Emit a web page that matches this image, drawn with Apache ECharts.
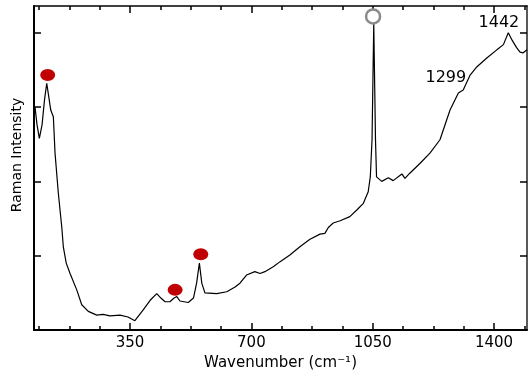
<!DOCTYPE html>
<html>
<head>
<meta charset="utf-8">
<script src="https://cdn.jsdelivr.net/npm/echarts@6/dist/echarts.min.js"></script>
<style>
  html, body { margin: 0; padding: 0; background: #fff; }
  #chart { width: 528px; height: 380px; }
</style>
</head>
<body>
<div id="chart"></div>
<script>
// spectrum (intensity in arbitrary units, one unit per y tick)
const wavenumber = [76, 81.8, 88.4, 96.2, 103.4, 109.7, 114.9, 121.3, 128.8, 133.7, 143.2, 153, 157.6, 166, 177, 196.3, 210.7, 229.7, 254, 272, 292, 321, 344, 364, 388, 408, 427, 439, 451, 465, 477, 485, 494, 518, 533, 542, 550, 557, 566, 600, 629, 653, 667, 686, 710, 725, 739, 763, 783, 811, 840, 869, 898, 912, 922, 936, 956, 984, 1004, 1023, 1037, 1043, 1048, 1053, 1058, 1061, 1076, 1095, 1109, 1134, 1143, 1157, 1186, 1215, 1244, 1273, 1297, 1311, 1331, 1350, 1379, 1408, 1427, 1441, 1452, 1465, 1475, 1484, 1495]
const intensity = [3.00, 2.76, 2.58, 2.76, 3.10, 3.32, 3.16, 2.96, 2.87, 2.38, 1.84, 1.39, 1.12, 0.90, 0.76, 0.54, 0.34, 0.25, 0.20, 0.21, 0.19, 0.20, 0.175, 0.125, 0.27, 0.40, 0.49, 0.43, 0.38, 0.38, 0.43, 0.45, 0.39, 0.37, 0.43, 0.63, 0.90, 0.63, 0.50, 0.49, 0.515, 0.58, 0.63, 0.74, 0.785, 0.76, 0.785, 0.85, 0.92, 1.01, 1.12, 1.22, 1.29, 1.30, 1.38, 1.44, 1.47, 1.525, 1.615, 1.705, 1.86, 2.06, 2.56, 4.12, 2.56, 2.06, 2.00, 2.05, 2.01, 2.10, 2.04, 2.11, 2.24, 2.38, 2.56, 2.96, 3.19, 3.23, 3.43, 3.54, 3.66, 3.77, 3.84, 4.00, 3.90, 3.80, 3.74, 3.73, 3.77]

// markers
const redDotX = [112.5, 480, 554]
const redDotY = [3.43, 0.54, 1.02]
const ringX = [1051]
const ringY = [4.22]
const peakLabels = ['1299', '1442']
const peakLabelX = [1261, 1414]
const peakLabelY = [3.39, 4.13]

// axis ticks
const xMajorTicks = [350, 700, 1050, 1400]
const xMinorTicks = [87.5, 175, 262.5, 437.5, 525, 612.5, 787.5, 875, 962.5, 1137.5, 1225, 1312.5, 1487.5]
const yTicks = [0, 1, 2, 3, 4]

const xMin = 73, xMax = 1495
const yMin = 0, yMax = 4.36
const FONT = 'DejaVu Sans'

const zip = (a, b) => a.map((v, i) => [v, b[i]])

const xAxisOf = (position, ticks, len, width, showLine, showLabel) => ({
	type: 'value',
	position: position,
	min: xMin,
	max: xMax,
	splitLine: { show: false },
	axisLine: { show: showLine, onZero: false, lineStyle: { color: '#000', width: width } },
	axisTick: { show: true, inside: true, length: len, customValues: ticks, lineStyle: { color: '#000', width: 1.5 } },
	axisLabel: showLabel ? {
		show: true, customValues: ticks, margin: 6,
		formatter: v => String(v),
		fontFamily: FONT, fontSize: 15, color: '#000'
	} : { show: false },
})

const chart = echarts.init(document.getElementById('chart'))
chart.setOption({
	animation: false,
	grid: { left: 34, right: 1, top: 6, bottom: 50, containLabel: false },
	xAxis: [
		Object.assign(xAxisOf('bottom', xMajorTicks, 7, 2, true, true), {
			name: 'Wavenumber (cm\u207B\u00B9)',
			nameLocation: 'middle',
			nameGap: 24,
			nameTextStyle: { fontFamily: FONT, fontSize: 15, color: '#000' },
		}),
		xAxisOf('bottom', xMinorTicks, 4, 2, false, false),
		xAxisOf('top', xMajorTicks, 7, 1.5, true, false),
		xAxisOf('top', xMinorTicks, 4, 1.5, false, false),
	],
	yAxis: [
		{
			type: 'value', position: 'left', min: yMin, max: yMax,
			splitLine: { show: false },
			axisLine: { show: true, onZero: false, lineStyle: { color: '#000', width: 2 } },
			axisTick: { show: true, inside: true, length: 7, customValues: yTicks, lineStyle: { color: '#000', width: 1.5 } },
			axisLabel: { show: false },
		},
		{
			type: 'value', position: 'right', min: yMin, max: yMax,
			splitLine: { show: false },
			axisLine: { show: true, onZero: false, lineStyle: { color: '#222', width: 1.5 } },
			axisTick: { show: true, inside: true, length: 7, customValues: yTicks, lineStyle: { color: '#000', width: 1.5 } },
			axisLabel: { show: false },
		},
	],
	graphic: [{
		type: 'text',
		x: 17,
		y: 155,
		rotation: Math.PI / 2,
		style: {
			text: 'Raman Intensity',
			fontFamily: FONT,
			fontSize: 14,
			fill: '#000',
			align: 'center',
			verticalAlign: 'middle',
		},
	}],
	series: [
		{
			type: 'line',
			data: zip(wavenumber, intensity),
			showSymbol: false,
			lineStyle: { color: '#000', width: 1.2 },
			z: 2,
		},
		{
			type: 'scatter',
			data: zip(ringX, ringY),
			symbol: 'circle',
			symbolSize: 14,
			itemStyle: { color: '#fff', borderColor: '#8a8a8a', borderWidth: 2.5, opacity: 1 },
			z: 3,
		},
		{
			type: 'scatter',
			data: zip(redDotX, redDotY),
			symbol: 'circle',
			symbolSize: [15, 12],
			itemStyle: { color: '#c00000', opacity: 1 },
			z: 3,
		},
		{
			type: 'scatter',
			data: peakLabels.map((t, i) => [peakLabelX[i], peakLabelY[i], t]),
			symbolSize: 0,
			itemStyle: { opacity: 1 },
			label: {
				show: true,
				position: [0, 0],
				align: 'center',
				verticalAlign: 'middle',
				formatter: p => p.data[2],
				fontFamily: FONT,
				fontSize: 16,
				color: '#000',
			},
			z: 4,
		},
	],
})
</script>
</body>
</html>
